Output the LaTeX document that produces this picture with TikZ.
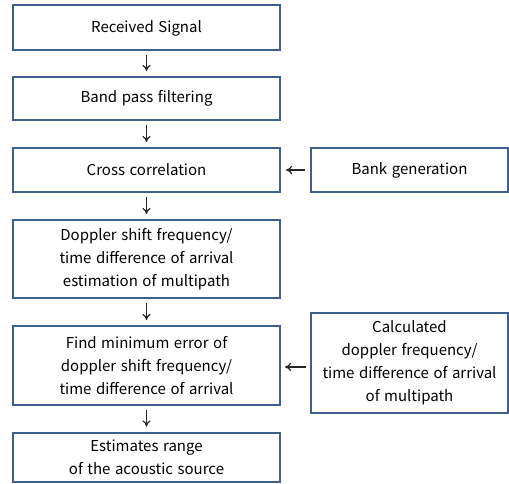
\documentclass[tikz,border=0pt]{standalone}
\usepackage{fontspec}
\setmainfont[WordSpace=1.35]{Noto Sans CJK KR}
\usetikzlibrary{arrows.meta}
\definecolor{boxblue}{RGB}{63,96,142}
\tikzset{
  blk/.style={draw=boxblue, line width=2bp, fill=white, align=center, inner sep=0pt,
    font=\fontsize{15bp}{23bp}\selectfont},
  flow/.style={draw=black!85, line width=1.2bp, -{To[length=6bp,width=8bp]}},
}
\begin{document}
\begin{tikzpicture}[x=1bp,y=-1bp]
\useasboundingbox (0,0) rectangle (509,484);
\node[blk, minimum width=267bp, minimum height=45bp] (rs) at (146.5,28) {Received Signal};
\node[blk, minimum width=267bp, minimum height=43bp] (bp) at (146.5,98.5) {Band pass filtering};
\node[blk, minimum width=267bp, minimum height=44bp] (cc) at (146.5,170) {Cross correlation};
\node[blk, minimum width=267bp, minimum height=78bp] (ds) at (146.5,259) {Doppler shift frequency/\\time difference of arrival\\estimation of multipath};
\node[blk, minimum width=267bp, minimum height=79bp] (fm) at (146.5,365.5) {Find minimum error of\\doppler shift frequency/\\time difference of arrival};
\node[blk, minimum width=267bp, minimum height=49bp] (er) at (146.5,457) {Estimates range\\of the acoustic source};
\node[blk, minimum width=197bp, minimum height=44bp] (bg) at (409.5,170) {Bank generation};
\node[blk, minimum width=197bp, minimum height=100bp] (cd) at (409.5,362.5) {Calculated\\doppler frequency/\\time difference of arrival\\of multipath};
\coordinate (cdl) at (306,367);
\coordinate (fmr) at (285,367);
\draw[flow] ([yshift=-4bp]rs.south) -- ([yshift=5bp]bp.north);
\draw[flow] ([yshift=-4bp]bp.south) -- ([yshift=5bp]cc.north);
\draw[flow] ([yshift=-4bp]cc.south) -- ([yshift=5bp]ds.north);
\draw[flow] ([yshift=-4bp]ds.south) -- ([yshift=5bp]fm.north);
\draw[flow] ([yshift=-4bp]fm.south) -- ([yshift=5bp]er.north);
\draw[flow] ([xshift=-5bp]bg.west) -- ([xshift=5bp]cc.east);
\draw[flow] (cdl) -- (fmr);
\end{tikzpicture}
\end{document}
